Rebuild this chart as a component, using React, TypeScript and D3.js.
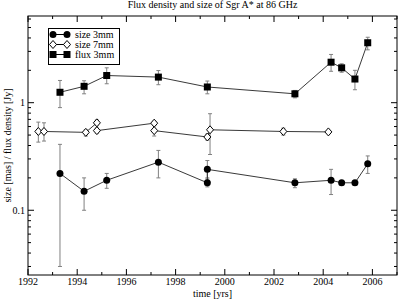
import * as d3 from "d3";

// time in years, values in mas / Jy
const size3Years = [1993.3, 1994.28, 1995.2, 1997.3, 1999.29, 1999.29, 2002.85, 2004.32, 2004.75, 2005.29, 2005.81];
const size3Values = [0.22, 0.15, 0.19, 0.28, 0.18, 0.24, 0.18, 0.19, 0.18, 0.18, 0.27];
const size3Low = [0.03, 0.1, 0.16, 0.2, 0.165, 0.2, 0.162, 0.14, 0.172, 0.172, 0.22];
const size3High = [0.41, 0.2, 0.22, 0.36, 0.195, 0.29, 0.196, 0.24, 0.186, 0.186, 0.32];

const size7Years = [1992.42, 1992.65, 1994.35, 1994.8, 1994.8, 1997.13, 1997.13, 1999.29, 1999.4, 2002.38, 2004.21];
const size7Values = [0.54, 0.54, 0.53, 0.65, 0.55, 0.645, 0.55, 0.48, 0.56, 0.54, 0.535];
const size7Low = [0.43, 0.44, 0.49, 0.62, 0.52, 0.62, 0.49, 0.45, 0.33, 0.5, 0.52];
const size7High = [0.66, 0.65, 0.56, 0.69, 0.58, 0.67, 0.62, 0.51, 0.79, 0.58, 0.55];

const fluxYears = [1993.3, 1994.28, 1995.2, 1997.3, 1999.29, 2002.85, 2004.32, 2004.75, 2005.29, 2005.81];
const fluxValues = [1.25, 1.42, 1.79, 1.73, 1.4, 1.21, 2.38, 2.11, 1.66, 3.61];
const fluxLow = [0.9, 1.21, 1.5, 1.47, 1.21, 1.11, 1.96, 1.92, 1.32, 3.1];
const fluxHigh = [1.61, 1.6, 2.11, 1.99, 1.59, 1.3, 2.81, 2.3, 2.0, 4.06];

const xMajorTicks = [1992, 1994, 1996, 1998, 2000, 2002, 2004, 2006];
const xMinorTicks = [1993, 1995, 1997, 1999, 2001, 2003, 2005, 2007];
const yMajorTicks = [0.1, 1];
const yTickLabels = ["0.1", "1"];
const yMinorTicks = [0.03, 0.04, 0.05, 0.06, 0.07, 0.08, 0.09, 0.2, 0.3, 0.4, 0.5, 0.6, 0.7, 0.8, 0.9, 2, 3, 4, 5, 6];

const legendLabels = ["size 3mm", "size 7mm", "flux 3mm"];

const W = 398;
const H = 299;
const margin = { top: 16, right: 1, bottom: 24, left: 28 };
const font = "Liberation Serif, Times New Roman, serif";

type Pt = { x: number; y: number; lo: number; hi: number };

const zip = (xs: number[], ys: number[], lo: number[], hi: number[]): Pt[] =>
  xs.map((x, i) => ({ x, y: ys[i], lo: lo[i], hi: hi[i] }));

const App = () => {
  const x = d3.scaleLinear().domain([1992, 2007]).range([margin.left, W - margin.right]);
  const y = d3.scaleLog().domain([0.025, 6.4]).range([H - margin.bottom, margin.top]);
  const line = d3.line<Pt>().x(d => x(d.x)).y(d => y(d.y));

  const series = [
    { name: "size3", data: zip(size3Years, size3Values, size3Low, size3High), marker: "circle" },
    { name: "size7", data: zip(size7Years, size7Values, size7Low, size7High), marker: "diamond" },
    { name: "flux", data: zip(fluxYears, fluxValues, fluxLow, fluxHigh), marker: "square" },
  ];

  const marker = (kind: string, cx: number, cy: number, key: string) => {
    if (kind === "circle") return <circle key={key} cx={cx} cy={cy} r={3.5} fill="#000" />;
    if (kind === "square") return <rect key={key} x={cx - 3.5} y={cy - 3.5} width={7} height={7} fill="#000" />;
    return (
      <path key={key} d={`M${cx},${cy - 4}L${cx + 3.5},${cy}L${cx},${cy + 4}L${cx - 3.5},${cy}Z`}
        fill="#fff" stroke="#000" strokeWidth={1} />
    );
  };

  const [x0, x1] = x.range();
  const [y0, y1] = y.range();
  const major = 6;
  const minor = 3;

  return (
    <svg width={W} height={H} style={{ position: "absolute", left: 0, top: 0, background: "#fff", fontFamily: font }}>
      <text x={(x0 + x1) / 2} y={8} textAnchor="middle" fontSize={10}>
        Flux density and size of Sgr A* at 86 GHz
      </text>

      {/* ticks, inward on all four sides */}
      <g stroke="#000" strokeWidth={1}>
        {xMajorTicks.map(t => (
          <g key={"xM" + t}>
            <line x1={x(t)} x2={x(t)} y1={y0} y2={y0 - major} />
            <line x1={x(t)} x2={x(t)} y1={y1} y2={y1 + major} />
          </g>
        ))}
        {xMinorTicks.map(t => (
          <g key={"xm" + t}>
            <line x1={x(t)} x2={x(t)} y1={y0} y2={y0 - minor} />
            <line x1={x(t)} x2={x(t)} y1={y1} y2={y1 + minor} />
          </g>
        ))}
        {yMajorTicks.map(t => (
          <g key={"yM" + t}>
            <line x1={x0} x2={x0 + major} y1={y(t)} y2={y(t)} />
            <line x1={x1} x2={x1 - major} y1={y(t)} y2={y(t)} />
          </g>
        ))}
        {yMinorTicks.map(t => (
          <g key={"ym" + t}>
            <line x1={x0} x2={x0 + minor} y1={y(t)} y2={y(t)} />
            <line x1={x1} x2={x1 - minor} y1={y(t)} y2={y(t)} />
          </g>
        ))}
      </g>
      <rect x={x0} y={y1} width={x1 - x0} height={y0 - y1} fill="none" stroke="#000" strokeWidth={1} />

      <g fontSize={10}>
        {xMajorTicks.map(t => (
          <text key={"xl" + t} x={x(t)} y={y0 + 10} textAnchor="middle">{t}</text>
        ))}
        {yMajorTicks.map((t, i) => (
          <text key={"yl" + t} x={x0 - 3} y={y(t) + 3.5} textAnchor="end">{yTickLabels[i]}</text>
        ))}
        <text x={(x0 + x1) / 2} y={H - 2} textAnchor="middle">time [yrs]</text>
        <text transform={`translate(11,${(y0 + y1) / 2}) rotate(-90)`} textAnchor="middle">
          size [mas] / flux density [Jy]
        </text>
      </g>

      {/* error bars */}
      <g stroke="#808080" strokeWidth={1}>
        {series.map(s =>
          s.data.map((d, i) => (
            <g key={s.name + "e" + i}>
              <line x1={x(d.x)} x2={x(d.x)} y1={y(d.lo)} y2={y(d.hi)} />
              <line x1={x(d.x) - 2} x2={x(d.x) + 2} y1={y(d.lo)} y2={y(d.lo)} />
              <line x1={x(d.x) - 2} x2={x(d.x) + 2} y1={y(d.hi)} y2={y(d.hi)} />
            </g>
          ))
        )}
      </g>

      {series.map(s => (
        <path key={s.name} d={line(s.data) || ""} fill="none" stroke="#222" strokeWidth={0.9} />
      ))}
      {series.map(s => s.data.map((d, i) => marker(s.marker, x(d.x), y(d.y), s.name + "m" + i)))}

      {/* legend */}
      <rect x={48.5} y={28.5} width={71} height={36} fill="#fff" stroke="#000" strokeWidth={1} />
      {series.map((s, i) => {
        const ly = 34.5 + i * 10;
        return (
          <g key={"lg" + s.name}>
            <line x1={53} x2={67} y1={ly} y2={ly} stroke="#000" strokeWidth={1} />
            {marker(s.marker, 53, ly, "lga" + i)}
            {marker(s.marker, 67, ly, "lgb" + i)}
            <text x={75} y={ly + 3.5} fontSize={10}>{legendLabels[i]}</text>
          </g>
        );
      })}
    </svg>
  );
};

export default App;
